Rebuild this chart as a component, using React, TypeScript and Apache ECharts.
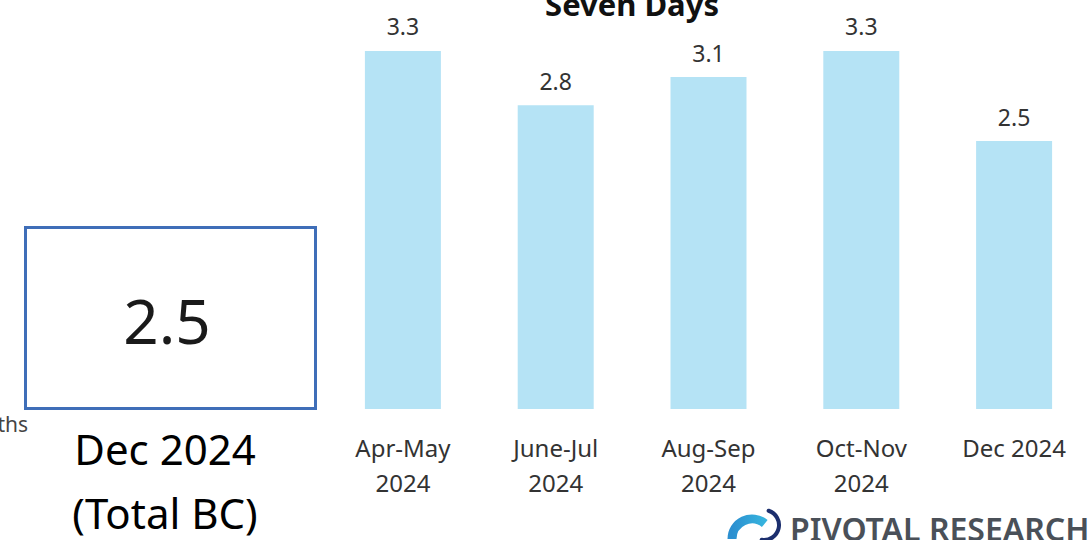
import React, { useEffect, useRef } from "react";
import * as echarts from "echarts";

const categories = ["Apr-May\n2024", "June-Jul\n2024", "Aug-Sep\n2024", "Oct-Nov\n2024", "Dec 2024"];
const values = [3.3, 2.8, 3.06, 3.3, 2.47];
const titleText = "Seven Days";
const boxValue = "2.5";
const boxLabel = ["Dec 2024", "(Total BC)"];
const leftCutText = "ths";
const logoText = "PIVOTAL RESEARCH";

const FONT = "'Noto Sans', 'Open Sans', sans-serif";

export default function App() {
  const ref = useRef<HTMLDivElement>(null);
  useEffect(() => {
    document.body.style.margin = "0";
    const chart = echarts.init(ref.current!, null, { renderer: "svg" });
    chart.setOption({
      animation: false,
      backgroundColor: "#ffffff",
      grid: { left: 326.5, width: 764, top: 0, height: 409, containLabel: false },
      xAxis: {
        type: "category",
        data: categories,
        axisLine: { show: false },
        axisTick: { show: false },
        axisLabel: {
          color: "#333333",
          fontFamily: FONT,
          fontSize: 24,
          lineHeight: 35,
          margin: 21,
          interval: 0,
        },
      },
      yAxis: {
        type: "value",
        min: 0,
        max: 3.77,
        show: false,
        splitLine: { show: false },
      },
      series: [
        {
          type: "bar",
          data: values,
          barWidth: 76,
          itemStyle: { color: "#B5E3F5" },
          label: {
            show: true,
            position: "top",
            distance: 13,
            color: "#333333",
            fontFamily: FONT,
            fontSize: 23,
            formatter: (p: any) => p.value.toFixed(1),
          },
        },
      ],
      graphic: [
        {
          type: "text",
          x: 632,
          y: 19,
          style: {
            text: titleText,
            fill: "#111111",
            font: `bold 31px ${FONT}`,
            textAlign: "center",
            textVerticalAlign: "bottom",
          },
        },
        {
          type: "rect",
          shape: { x: 25.5, y: 227.5, width: 290, height: 181 },
          style: { fill: "none", stroke: "#3F6EB8", lineWidth: 3 },
        },
        {
          type: "text",
          x: 167,
          y: 320,
          style: {
            text: boxValue,
            fill: "#1a1a1a",
            font: `62px ${FONT}`,
            textAlign: "center",
            textVerticalAlign: "middle",
          },
        },
        {
          type: "text",
          x: 165,
          y: 448,
          style: {
            text: boxLabel[0],
            fill: "#000000",
            font: `42px ${FONT}`,
            textAlign: "center",
            textVerticalAlign: "middle",
          },
        },
        {
          type: "text",
          x: 165,
          y: 512,
          style: {
            text: boxLabel[1],
            fill: "#000000",
            font: `42px ${FONT}`,
            textAlign: "center",
            textVerticalAlign: "middle",
          },
        },
        {
          type: "text",
          x: 28,
          y: 424,
          style: {
            text: leftCutText,
            fill: "#444444",
            font: `21px ${FONT}`,
            textAlign: "right",
            textVerticalAlign: "middle",
          },
        },
        {
          type: "arc",
          shape: { cx: 752, cy: 539, r: 20, startAngle: Math.PI * 1.0, endAngle: Math.PI * 1.72, clockwise: true },
          style: {
            stroke: new echarts.graphic.LinearGradient(0, 0, 1, 0, [
              { offset: 0, color: "#2C8FD0" },
              { offset: 1, color: "#36B4DE" },
            ]),
            lineWidth: 9,
            fill: "none",
          },
        },
        {
          type: "arc",
          shape: { cx: 764, cy: 525, r: 15, startAngle: -Math.PI * 0.4, endAngle: Math.PI * 0.55, clockwise: true },
          style: { stroke: "#1C2F6E", lineWidth: 4, fill: "none", lineCap: "round" },
        },
        {
          type: "text",
          x: 790,
          y: 528,
          style: {
            text: logoText,
            fill: "#4A5058",
            font: `600 32px ${FONT}`,
            textAlign: "left",
            textVerticalAlign: "middle",
          },
        },
      ],
    });
    return () => chart.dispose();
  }, []);
  return <div ref={ref} style={{ width: 1091, height: 540 }} />;
}
